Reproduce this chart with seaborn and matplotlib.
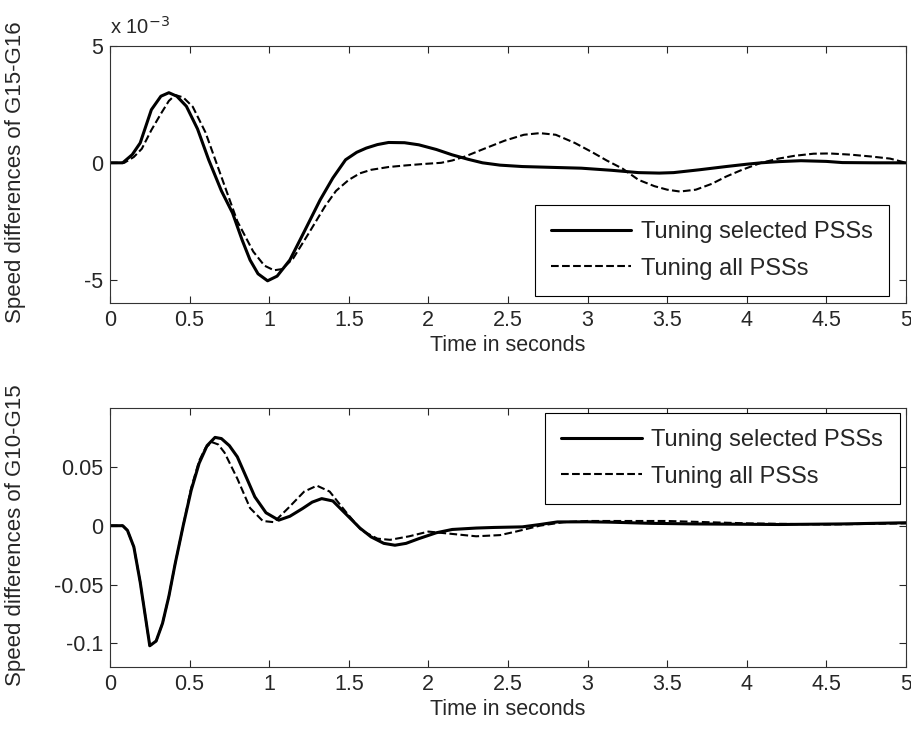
import numpy as np
import pandas as pd
import matplotlib.pyplot as plt
import matplotlib.ticker as mticker
import seaborn as sns

sns.set_style('ticks')
plt.rcParams['font.family'] = ['Liberation Sans', 'DejaVu Sans']
plt.rcParams['xtick.direction'] = 'in'
plt.rcParams['ytick.direction'] = 'in'

# Top panel: speed difference G15-G16, in units of 1e-3
top_sel_t = [0, 0.08, 0.14, 0.19, 0.26, 0.32, 0.37, 0.42, 0.48, 0.55, 0.62, 0.70, 0.77, 0.83,
             0.88, 0.93, 0.99, 1.05, 1.13, 1.22, 1.32, 1.40, 1.48, 1.55, 1.61, 1.68, 1.75,
             1.85, 1.94, 2.05, 2.15, 2.25, 2.34, 2.45, 2.59, 2.80, 2.96, 3.15, 3.32, 3.45,
             3.54, 3.70, 3.87, 4.00, 4.09, 4.20, 4.34, 4.50, 4.60, 4.80, 5.0]
top_sel_v = [0, 0, 0.35, 0.85, 2.27, 2.85, 3.0, 2.85, 2.42, 1.45, 0.13, -1.20, -2.15, -3.30,
             -4.16, -4.75, -5.05, -4.85, -4.16, -2.95, -1.59, -0.65, 0.13, 0.45, 0.63, 0.78, 0.87,
             0.86, 0.77, 0.57, 0.34, 0.15, 0.0, -0.10, -0.16, -0.20, -0.23, -0.32, -0.42, -0.44,
             -0.42, -0.30, -0.16, -0.06, 0.0, 0.05, 0.09, 0.06, 0.01, 0.0, 0.0]
top_all_t = [0, 0.09, 0.15, 0.20, 0.26, 0.32, 0.37, 0.41, 0.46, 0.52, 0.60, 0.70, 0.80, 0.90,
             0.97, 1.03, 1.08, 1.15, 1.25, 1.35, 1.42, 1.50, 1.57, 1.64, 1.75, 1.86, 1.97,
             2.08, 2.15, 2.23, 2.35, 2.48, 2.60, 2.70, 2.80, 2.92, 3.03, 3.12, 3.22, 3.32,
             3.42, 3.50, 3.58, 3.68, 3.78, 3.87, 3.97, 4.09, 4.20, 4.30, 4.42, 4.52, 4.65,
             4.78, 4.90, 5.0]
top_all_v = [0, 0, 0.25, 0.60, 1.40, 2.10, 2.65, 2.90, 2.80, 2.40, 1.30, -0.60, -2.50, -3.80,
             -4.40, -4.60, -4.55, -4.10, -3.00, -1.87, -1.20, -0.73, -0.45, -0.30, -0.18, -0.11, -0.05,
             0.0, 0.10, 0.27, 0.60, 0.95, 1.20, 1.27, 1.20, 0.85, 0.45, 0.10, -0.25, -0.73,
             -1.00, -1.15, -1.23, -1.15, -0.90, -0.59, -0.30, 0.0, 0.18, 0.30, 0.39, 0.40, 0.35,
             0.27, 0.18, 0.0]

# Bottom panel: speed difference G10-G15
bot_sel_t = [0, 0.08, 0.11, 0.15, 0.19, 0.22, 0.25, 0.29, 0.33, 0.37, 0.41, 0.46, 0.51, 0.56,
             0.61, 0.66, 0.70, 0.75, 0.80, 0.86, 0.91, 0.98, 1.06, 1.13, 1.21, 1.27, 1.33,
             1.40, 1.50, 1.57, 1.64, 1.72, 1.79, 1.86, 1.94, 2.05, 2.15, 2.30, 2.41, 2.59,
             2.70, 2.81, 3.00, 3.14, 3.40, 3.67, 4.00, 4.20, 4.60, 5.0]
bot_sel_v = [0, 0, -0.004, -0.018, -0.048, -0.075, -0.102, -0.098, -0.083, -0.060, -0.032, 0.000, 0.030, 0.053,
             0.068, 0.075, 0.074, 0.068, 0.0585, 0.040, 0.0245, 0.011, 0.0047, 0.008, 0.0146, 0.020, 0.023,
             0.021, 0.0075, -0.002, -0.0095, -0.015, -0.0166, -0.015, -0.011, -0.006, -0.0032, -0.002, -0.0015, -0.001,
             0.001, 0.0032, 0.0033, 0.003, 0.002, 0.0015, 0.0012, 0.001, 0.0015, 0.0025]
bot_all_t = [0, 0.08, 0.11, 0.15, 0.19, 0.22, 0.25, 0.29, 0.33, 0.37, 0.41, 0.46, 0.51, 0.56,
             0.60, 0.64, 0.68, 0.72, 0.80, 0.88, 0.96, 1.03, 1.12, 1.22, 1.30, 1.38, 1.48,
             1.58, 1.68, 1.76, 1.88, 2.00, 2.15, 2.30, 2.45, 2.55, 2.70, 2.85, 3.00, 3.50,
             4.00, 4.50, 5.0]
bot_all_v = [0, 0, -0.004, -0.018, -0.048, -0.075, -0.102, -0.098, -0.083, -0.060, -0.032, 0.000, 0.032, 0.055,
             0.066, 0.071, 0.069, 0.062, 0.040, 0.015, 0.004, 0.003, 0.015, 0.029, 0.034, 0.029, 0.012,
             -0.004, -0.011, -0.012, -0.009, -0.005, -0.007, -0.009, -0.008, -0.005, 0.000, 0.003, 0.004, 0.004,
             0.002, 0.001, 0.002]

lbl_sel = 'Tuning selected PSSs'
lbl_all = 'Tuning all PSSs'
xticks = [0, 0.5, 1, 1.5, 2, 2.5, 3, 3.5, 4, 4.5, 5]
xticklabels = ['0', '0.5', '1', '1.5', '2', '2.5', '3', '3.5', '4', '4.5', '5']

fig = plt.figure(figsize=(9.11, 7.31), dpi=100)
ax1 = fig.add_axes([0.1207, 0.5855, 0.8738, 0.3516])
ax2 = fig.add_axes([0.1207, 0.0876, 0.8738, 0.3543])

fs = 15.5


def draw_panel(ax, t_sel, v_sel, t_all, v_all):
    sns.lineplot(x=t_sel, y=v_sel, ax=ax, color='black', linewidth=2.2, label=lbl_sel,
                 sort=False, estimator=None)
    sns.lineplot(x=t_all, y=v_all, ax=ax, color='black', linewidth=1.5, linestyle='--',
                 dashes=False, label=lbl_all, sort=False, estimator=None)
    ax.set_xlim(0, 5)
    ax.set_xticks(xticks)
    ax.set_xticklabels(xticklabels, fontsize=fs)
    ax.set_xlabel('Time in seconds', fontsize=fs, labelpad=3)
    ax.tick_params(top=True, right=True, length=5, width=0.8, labelsize=fs, pad=5)
    for s in ax.spines.values():
        s.set_linewidth(0.8)
        s.set_color('#333333')


def add_legend(ax, corner, anchor):
    leg = ax.legend(loc=corner, bbox_to_anchor=anchor, borderaxespad=0, fontsize=17,
                    handlelength=3.4, handletextpad=0.4, labelspacing=0.6, borderpad=0.7,
                    fancybox=False, edgecolor='black', framealpha=1)
    leg.get_frame().set_linewidth(0.8)


draw_panel(ax1, top_sel_t, np.array(top_sel_v) * 1e-3, top_all_t, np.array(top_all_v) * 1e-3)
ax1.set_ylim(-6e-3, 5e-3)
ax1.set_yticks([-5e-3, 0, 5e-3])
ax1.yaxis.set_major_formatter(mticker.FuncFormatter(lambda v, p: '%g' % round(v * 1e3, 6)))
ax1.set_ylabel('Speed differences of G15-G16', fontsize=16)
ax1.yaxis.set_label_coords(-0.105, 0.51)
ax1.text(0.0, 1.03, r'x 10$^{-3}$', transform=ax1.transAxes, fontsize=fs - 1, ha='left', va='bottom')
add_legend(ax1, 'lower right', (0.979, 0.027))

draw_panel(ax2, bot_sel_t, bot_sel_v, bot_all_t, bot_all_v)
ax2.set_ylim(-0.12, 0.1)
ax2.set_yticks([-0.1, -0.05, 0, 0.05])
ax2.set_yticklabels(['-0.1', '-0.05', '0', '0.05'], fontsize=fs)
ax2.set_ylabel('Speed differences of G10-G15', fontsize=16)
ax2.yaxis.set_label_coords(-0.105, 0.51)
add_legend(ax2, 'upper right', (0.992, 0.981))

fig.savefig('out.png', dpi=100)
